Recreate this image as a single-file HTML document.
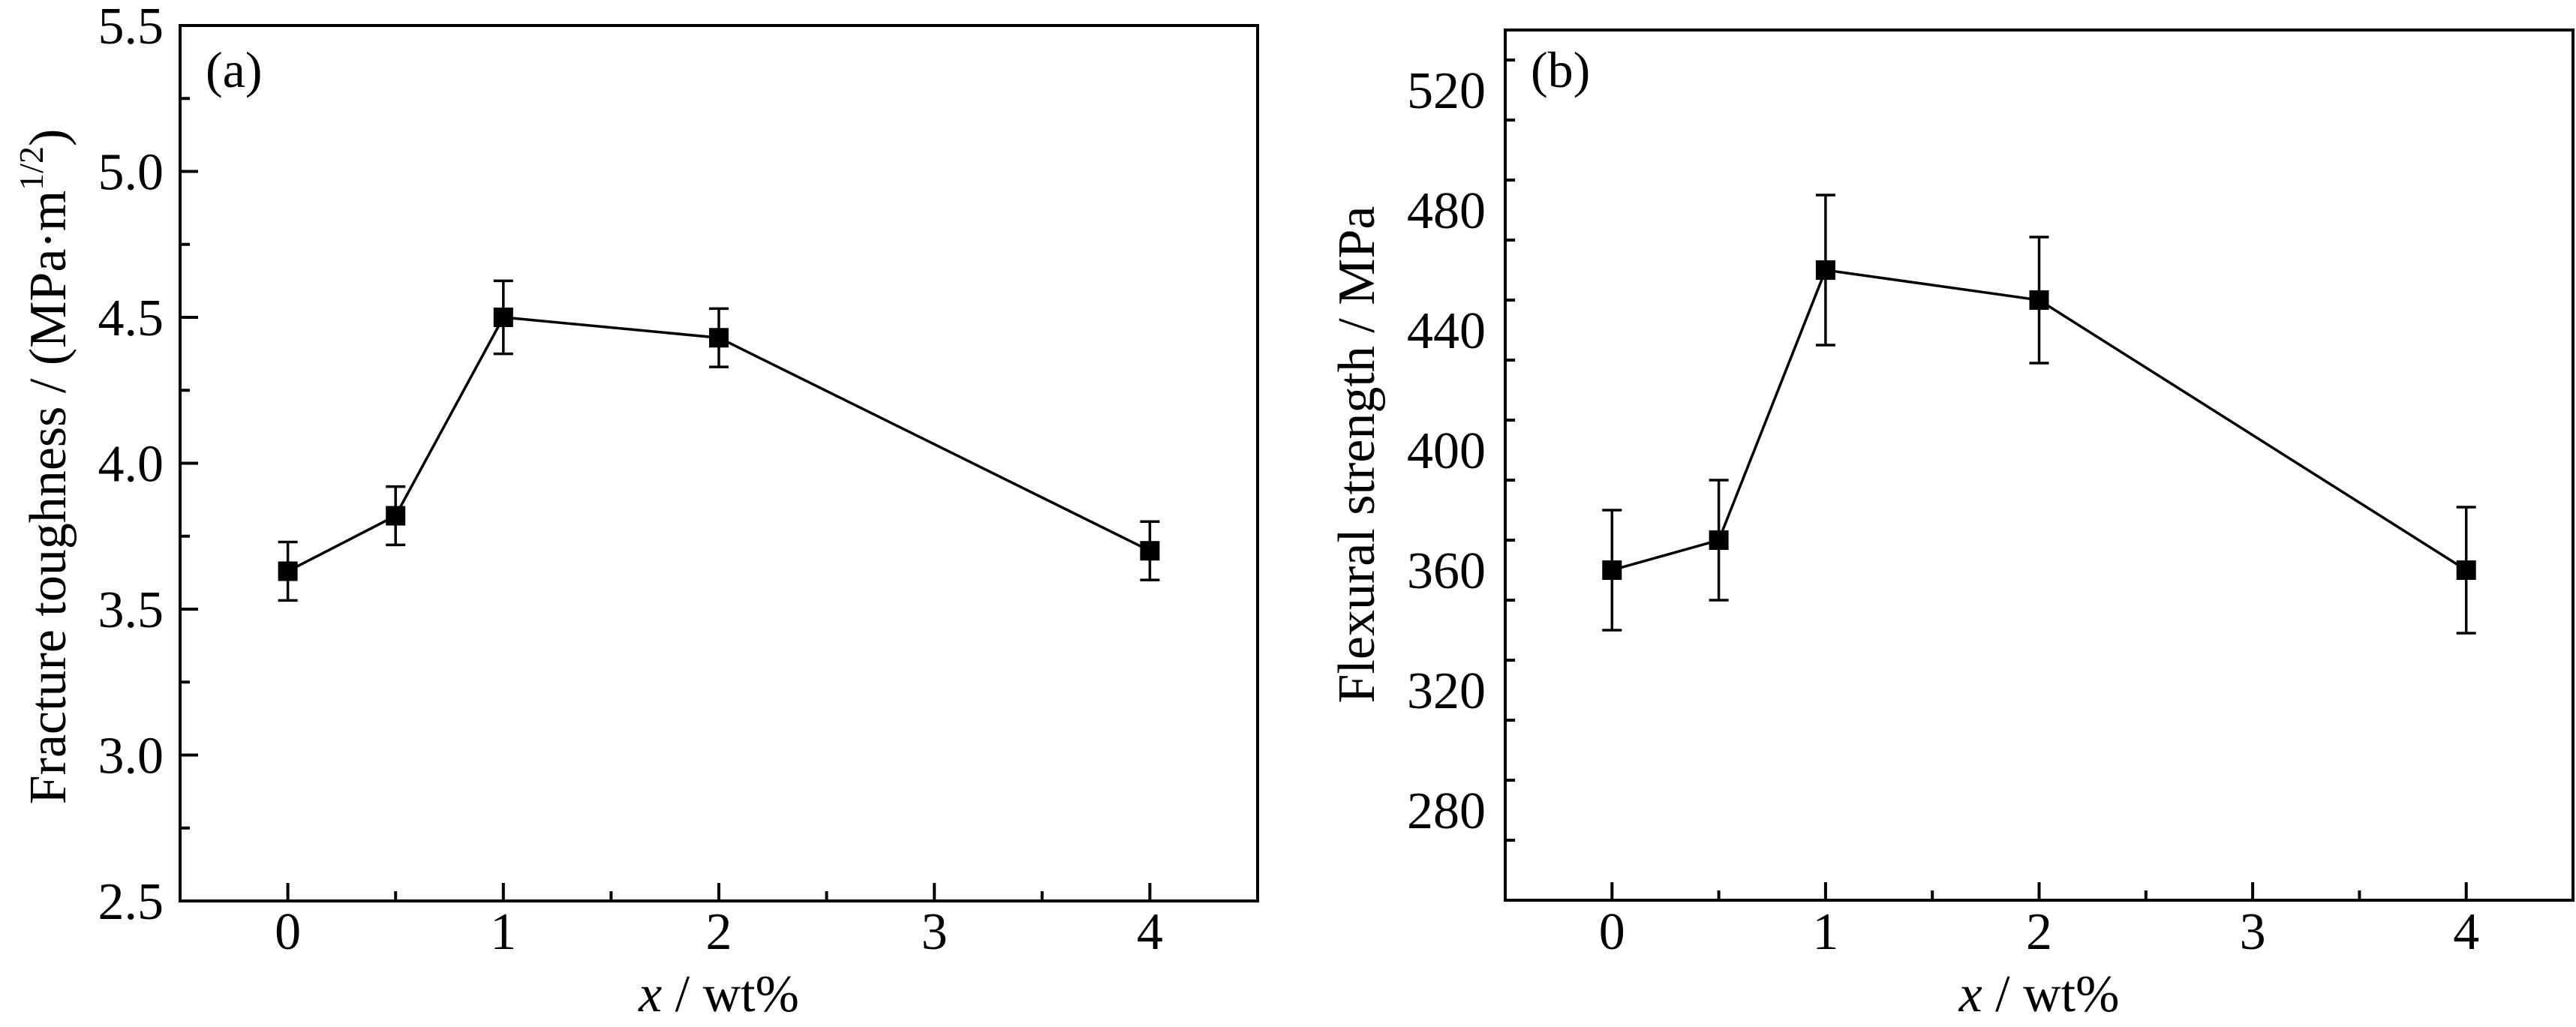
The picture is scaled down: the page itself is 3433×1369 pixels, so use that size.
<!DOCTYPE html>
<html><head><meta charset="utf-8"><style>
html,body{margin:0;padding:0;background:#fff;}
svg{display:block;font-family:"Liberation Serif",serif;}
</style></head><body>
<svg id="chart" width="3433" height="1369" viewBox="0 0 3433 1369" xmlns="http://www.w3.org/2000/svg">
<rect width="3433" height="1369" fill="#fff"/>
<g id="pa"></g>
<g id="pb"></g>
</svg>
<script>
const xCats = [0, 0.5, 1, 2, 4];
const toughVals = [3.63, 3.82, 4.50, 4.43, 3.70];
const toughErr = [0.10, 0.10, 0.125, 0.10, 0.10];
const strengthVals = [360, 370, 460, 450, 360];
const strengthErr = [20, 20, 25, 21, 21];
const xTicks = [0, 1, 2, 3, 4];
const toughTicks = ["2.5","3.0","3.5","4.0","4.5","5.0","5.5"];
const strengthTicks = ["280","320","360","400","440","480","520"];

const NS = "http://www.w3.org/2000/svg";
function mk(parent, tag, attrs, name) {
  const e = document.createElementNS(NS, tag);
  for (const k in attrs) e.setAttribute(k, attrs[k]);
  
  
  parent.appendChild(e);
  return e;
}

function panel(g, cfg) {
  const {L, R, T, B, xmin, xmax, ymin, ymax, yMinorStep, yTicks, vals, errs, label, titleX, titleY, titleLen, labelRight} = cfg;
  const sx = v => L + (v - xmin) / (xmax - xmin) * (R - L);
  const sy = v => B - (v - ymin) / (ymax - ymin) * (B - T);
  // frame
  mk(g, 'rect', {x: L, y: T, width: R - L, height: B - T, fill: 'none', stroke: '#000', 'stroke-width': 4}, 'plot-frame');
  // x ticks
  for (let v = 0; v <= 4.5; v += 0.5) {
    const major = Number.isInteger(v);
    mk(g, 'line', {x1: sx(v), x2: sx(v), y1: B, y2: B - (major ? 24 : 13), stroke: '#000', 'stroke-width': 4}, major ? 'x-major-tick' : 'x-minor-tick');
  }
  xTicks.forEach(v => {
    const t = mk(g, 'text', {x: sx(v), y: 1265, 'font-size': 70, 'text-anchor': 'middle'}, 'x-tick-label');
    t.textContent = String(v);
  });
  // y ticks
  for (let v = ymin; v <= ymax + 1e-9; v += yMinorStep) {
    const vv = Math.round(v * 1000) / 1000;
    const major = yTicks.includes(cfg.fmt(vv));
    if (vv === ymin || vv === ymax) { if (!major) continue; }
    mk(g, 'line', {x1: L, x2: L + (major ? 24 : 13), y1: sy(vv), y2: sy(vv), stroke: '#000', 'stroke-width': 4}, major ? 'y-major-tick' : 'y-minor-tick');
  }
  yTicks.forEach(s => {
    const t = mk(g, 'text', {x: labelRight, y: sy(parseFloat(s)) + 24, 'font-size': 70, 'text-anchor': 'end'}, 'y-tick-label');
    t.textContent = s;
  });
  // line
  const pts = xCats.map((x, i) => sx(x) + ',' + sy(vals[i])).join(' ');
  mk(g, 'polyline', {points: pts, fill: 'none', stroke: '#000', 'stroke-width': 3.5}, 'data-line');
  // error bars + markers
  xCats.forEach((x, i) => {
    const cx = sx(x), yt = sy(vals[i] + errs[i]), yb = sy(vals[i] - errs[i]);
    mk(g, 'line', {x1: cx, x2: cx, y1: yt, y2: yb, stroke: '#000', 'stroke-width': 3.5}, 'error-bar');
    mk(g, 'line', {x1: cx - 13, x2: cx + 13, y1: yt, y2: yt, stroke: '#000', 'stroke-width': 3.5}, 'error-cap-top');
    mk(g, 'line', {x1: cx - 13, x2: cx + 13, y1: yb, y2: yb, stroke: '#000', 'stroke-width': 3.5}, 'error-cap-bottom');
    mk(g, 'rect', {x: cx - 13, y: sy(vals[i]) - 13, width: 26, height: 26, fill: '#000'}, 'data-point');
  });
  // panel label
  const pl = mk(g, 'text', {x: L + 34, y: 116, 'font-size': 68}, 'panel-label');
  pl.textContent = label;
  // x title
  const xt = mk(g, 'text', {x: (L + R) / 2, y: 1348, 'font-size': 70, 'text-anchor': 'middle'}, 'x-axis-title');
  const xi = document.createElementNS(NS, 'tspan'); xi.setAttribute('font-style', 'italic'); xi.textContent = 'x';
  xt.appendChild(xi);
  xt.appendChild(document.createTextNode(' / wt%'));
  // y title
  const yt = mk(g, 'text', {x: 0, y: 0, 'font-size': 70, 'text-anchor': 'middle', transform: `translate(${titleX},${titleY}) rotate(-90)`}, 'y-axis-title');
  cfg.title(yt);
}

panel(document.getElementById('pa'), {
  L: 240, R: 1676, T: 34, B: 1201, xmin: -0.5, xmax: 4.5, ymin: 2.5, ymax: 5.5, yMinorStep: 0.25,
  yTicks: toughTicks, fmt: v => v.toFixed(1), vals: toughVals, errs: toughErr, label: '(a)',
  labelRight: 218, titleX: 87, titleY: 622,
  title: t => {
    t.appendChild(document.createTextNode('Fracture toughness / (MPa·m'));
    const s = document.createElementNS(NS, 'tspan'); s.setAttribute('font-size', 46); s.setAttribute('dy', -30); s.textContent = '1/2';
    t.appendChild(s);
    const c = document.createElementNS(NS, 'tspan'); c.setAttribute('dy', 30); c.textContent = ')';
    t.appendChild(c);
  }
});
panel(document.getElementById('pb'), {
  L: 2006, R: 3429, T: 40, B: 1200, xmin: -0.5, xmax: 4.5, ymin: 250, ymax: 540, yMinorStep: 20,
  yTicks: strengthTicks, fmt: v => String(v), vals: strengthVals, errs: strengthErr, label: '(b)',
  labelRight: 1980, titleX: 1831, titleY: 606,
  title: t => { t.textContent = 'Flexural strength / MPa'; }
});
</script>
</body></html>
